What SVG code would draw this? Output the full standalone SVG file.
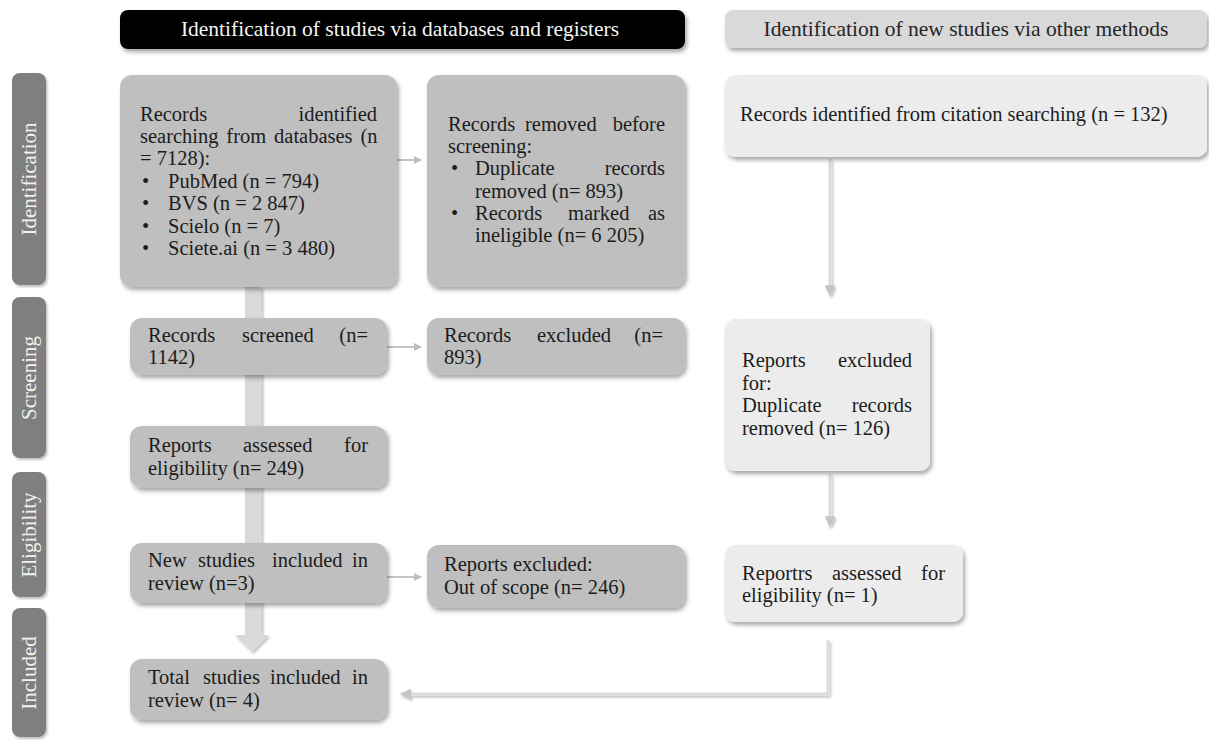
<svg xmlns="http://www.w3.org/2000/svg" width="1209" height="740" viewBox="0 0 1209 740">
<defs>
<filter id="sh" x="-10%" y="-10%" width="125%" height="130%">
<feDropShadow dx="2" dy="3" stdDeviation="2" flood-color="#000" flood-opacity="0.35"/>
</filter>
<filter id="shl" x="-50%" y="-10%" width="200%" height="130%">
<feDropShadow dx="1.5" dy="2" stdDeviation="1.2" flood-color="#000" flood-opacity="0.25"/>
</filter>
<filter id="shu" filterUnits="userSpaceOnUse" x="0" y="0" width="1209" height="740">
<feDropShadow dx="1.5" dy="2" stdDeviation="1.2" flood-color="#000" flood-opacity="0.25"/>
</filter>
<marker id="ah" viewBox="0 0 10 10" refX="9" refY="5" markerWidth="4" markerHeight="4" orient="auto" markerUnits="strokeWidth">
<path d="M0,0 L10,5 L0,10 Z" fill="#bdbdbd"/>
</marker>
<marker id="ahl" viewBox="0 0 10 10" refX="9" refY="5" markerWidth="3.6" markerHeight="3.6" orient="auto" markerUnits="strokeWidth">
<path d="M0,0 L10,5 L0,10 Z" fill="#c4c4c4"/>
</marker>
</defs>
<style>
.t{font-family:"Liberation Serif","Times New Roman",serif;font-size:20.5px;fill:#1c1c1c}
.e{text-anchor:end}
.h{font-family:"Liberation Serif","Times New Roman",serif;font-size:21.5px;text-anchor:middle}
.s{font-family:"Liberation Serif","Times New Roman",serif;font-size:21px;fill:#f2f2f2;text-anchor:middle}
.side{fill:#7f7f7f}
.dk{fill:#bfbfbf}
.lt{fill:#ececec}
.sa{stroke:#c4c4c4;stroke-width:2;fill:none}
.la{stroke:#dcdcdc;stroke-width:3;fill:none}
</style>

<g id="headers">
<g id="header-databases">
<rect x="120" y="10" width="565" height="39" rx="8" fill="#000" filter="url(#sh)"/>
<text class="h" x="400" y="36" fill="#f5f5f5">Identification of studies via databases and registers</text>
</g>
<g id="header-other">
<rect x="725" y="10" width="482" height="38" rx="8" fill="#d9d9d9" filter="url(#sh)"/>
<text class="h" x="966" y="36" fill="#262626">Identification of new studies via other methods</text>
</g>
</g>

<g id="phases">
<g id="phase-identification">
<rect class="side" x="12" y="73" width="34" height="212" rx="8" filter="url(#shl)"/>
<text class="s" transform="translate(36,179) rotate(-90)">Identification</text>
</g>
<g id="phase-screening">
<rect class="side" x="12" y="297" width="34" height="161" rx="8" filter="url(#shl)"/>
<text class="s" transform="translate(36,378) rotate(-90)">Screening</text>
</g>
<g id="phase-eligibility">
<rect class="side" x="12" y="472" width="34" height="125" rx="8" filter="url(#shl)"/>
<text class="s" transform="translate(36,535) rotate(-90)">Eligibility</text>
</g>
<g id="phase-included">
<rect class="side" x="12" y="608" width="34" height="129" rx="8" filter="url(#shl)"/>
<text class="s" transform="translate(36,673) rotate(-90)">Included</text>
</g>
</g>

<g id="connectors">
<path d="M245,287 L262,287 L262,635 L269,635 L252,652 L235,635 L245,635 Z" fill="#d9d9d9" filter="url(#shu)"/>
<line class="sa" x1="397" y1="160" x2="421" y2="160" marker-end="url(#ah)"/>
<line class="sa" x1="387" y1="347" x2="421" y2="347" marker-end="url(#ah)"/>
<line class="sa" x1="387" y1="577" x2="421" y2="577" marker-end="url(#ah)"/>
<line class="la" x1="830" y1="159" x2="830" y2="295" marker-end="url(#ahl)" filter="url(#shu)"/>
<line class="la" x1="830" y1="474" x2="830" y2="526" marker-end="url(#ahl)" filter="url(#shu)"/>
<path class="la" d="M828,640 L828,694 L401,694" marker-end="url(#ahl)" filter="url(#shu)"/>
</g>

<g id="node-records-identified">
<rect class="dk" x="120" y="75" width="277" height="212" rx="12" filter="url(#sh)"/>
<text class="t" x="140" y="121">Records</text>
<text class="t e" x="377" y="121">identified</text>
<text class="t" x="140" y="143" word-spacing="2.7">searching from databases (n</text>
<text class="t" x="140" y="165">= 7128):</text>
<text class="t" x="142" y="187.5">•</text><text class="t" x="168" y="187.5">PubMed (n = 794)</text>
<text class="t" x="142" y="210">•</text><text class="t" x="168" y="210">BVS  (n = 2 847)</text>
<text class="t" x="142" y="232.5">•</text><text class="t" x="168" y="232.5">Scielo  (n = 7)</text>
<text class="t" x="142" y="255">•</text><text class="t" x="168" y="255">Sciete.ai (n = 3 480)</text>
</g>

<g id="node-records-removed">
<rect class="dk" x="427" y="75" width="258" height="212" rx="12" filter="url(#sh)"/>
<text class="t" x="448" y="131">Records</text>
<text class="t" x="525" y="131">removed</text>
<text class="t e" x="665" y="131">before</text>
<text class="t" x="448" y="153">screening:</text>
<text class="t" x="451" y="175">•</text><text class="t" x="475" y="175">Duplicate</text>
<text class="t e" x="665" y="175">records</text>
<text class="t" x="475" y="197.5">removed (n= 893)</text>
<text class="t" x="451" y="220">•</text><text class="t" x="475" y="220">Records</text>
<text class="t" x="568" y="220">marked</text>
<text class="t e" x="665" y="220">as</text>
<text class="t" x="475" y="242">ineligible  (n= 6 205)</text>
</g>

<g id="node-citation-searching">
<rect class="lt" x="725" y="75" width="482" height="82" rx="10" filter="url(#sh)"/>
<text class="t" x="740" y="121">Records identified from citation searching (n = 132)</text>
</g>

<g id="node-records-screened">
<rect class="dk" x="130" y="318" width="257" height="57" rx="12" filter="url(#sh)"/>
<text class="t" x="148" y="342">Records</text>
<text class="t" x="242" y="342">screened</text>
<text class="t e" x="368" y="342">(n=</text>
<text class="t" x="148" y="364">1142)</text>
</g>

<g id="node-records-excluded">
<rect class="dk" x="427" y="318" width="258" height="57" rx="12" filter="url(#sh)"/>
<text class="t" x="444" y="342">Records</text>
<text class="t" x="537" y="342">excluded</text>
<text class="t e" x="663" y="342">(n=</text>
<text class="t" x="444" y="364">893)</text>
</g>

<g id="node-reports-assessed">
<rect class="dk" x="130" y="426" width="257" height="62" rx="12" filter="url(#sh)"/>
<text class="t" x="148" y="452">Reports</text>
<text class="t" x="243" y="452">assessed</text>
<text class="t e" x="368" y="452">for</text>
<text class="t" x="148" y="475">eligibility  (n= 249)</text>
</g>

<g id="node-new-studies">
<rect class="dk" x="130" y="543" width="257" height="60" rx="12" filter="url(#sh)"/>
<text class="t" x="148" y="567">New</text>
<text class="t" x="198" y="567">studies</text>
<text class="t" x="272" y="567">included</text>
<text class="t e" x="368" y="567">in</text>
<text class="t" x="148" y="590">review (n=3)</text>
</g>

<g id="node-reports-excluded">
<rect class="dk" x="427" y="545" width="258" height="63" rx="12" filter="url(#sh)"/>
<text class="t" x="444" y="571">Reports excluded:</text>
<text class="t" x="444" y="594">Out of scope (n= 246)</text>
</g>

<g id="node-total-studies">
<rect class="dk" x="130" y="659" width="257" height="61" rx="12" filter="url(#sh)"/>
<text class="t" x="148" y="684">Total</text>
<text class="t" x="203" y="684">studies</text>
<text class="t" x="270" y="684">included</text>
<text class="t e" x="368" y="684">in</text>
<text class="t" x="148" y="707">review (n= 4)</text>
</g>

<g id="node-reports-excluded-other">
<rect class="lt" x="725" y="319" width="205" height="152" rx="10" filter="url(#sh)"/>
<text class="t" x="742" y="367">Reports</text>
<text class="t e" x="912" y="367">excluded</text>
<text class="t" x="742" y="390">for:</text>
<text class="t" x="742" y="412">Duplicate</text>
<text class="t e" x="912" y="412">records</text>
<text class="t" x="742" y="435">removed (n= 126)</text>
</g>

<g id="node-reports-assessed-other">
<rect class="lt" x="725" y="545" width="238" height="77" rx="10" filter="url(#sh)"/>
<text class="t" x="742" y="580">Reportrs</text>
<text class="t" x="832" y="580">assessed</text>
<text class="t e" x="945" y="580">for</text>
<text class="t" x="742" y="602">eligibility  (n= 1)</text>
</g>
</svg>
